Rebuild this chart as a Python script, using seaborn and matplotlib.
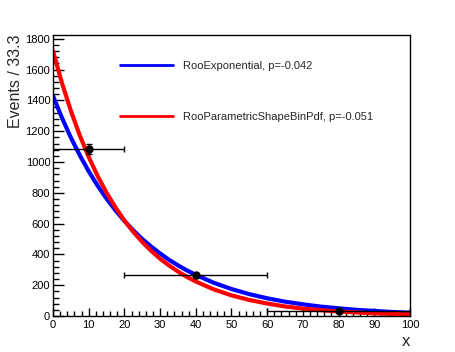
import numpy as np
import pandas as pd
import matplotlib
matplotlib.use("Agg")
import matplotlib.pyplot as plt
from matplotlib.lines import Line2D
import seaborn as sns

# curve values
x_curve = [0, 2.5, 5, 7.5, 10, 12.5, 15, 17.5, 20, 22.5, 25, 27.5, 30,
           32.5, 35, 37.5, 40, 45, 50, 55, 60, 65, 70, 75, 80, 85, 90, 95, 100]
expo_vals = [1430, 1287, 1159, 1044, 940, 846, 762, 686, 617, 556, 500, 451, 406,
             365, 329, 296, 267, 216, 175, 142, 115, 93, 76, 61, 50, 40, 33, 26, 21]
shape_vals = [1720, 1514, 1333, 1173, 1033, 909, 800, 705, 620, 546, 481, 423, 372,
              328, 289, 254, 224, 173, 134, 104, 81, 62, 48, 38, 29, 23, 17.5, 13.6, 10.5]

# binned data points
x_data = [10, 40, 80]
x_err = [10, 20, 20]
y_data = [1085, 265, 32]
y_err = [33, 16, 10]

labels = ["RooExponential, p=-0.042", "RooParametricShapeBinPdf, p=-0.051"]

sns.set_style("ticks")
plt.rcParams['font.family'] = ['Liberation Sans', 'DejaVu Sans']

fig = plt.figure(figsize=(4.56, 3.52), dpi=100)
ax = fig.add_axes([53 / 456, 1 - 316 / 352, 357 / 456, 281 / 352])

df = pd.DataFrame({"x": x_curve * 2,
                   "y": expo_vals + shape_vals,
                   "pdf": [labels[0]] * len(x_curve) + [labels[1]] * len(x_curve)})
sns.lineplot(data=df, x="x", y="y", hue="pdf", palette=["#0000ff", "#ff0000"],
             linewidth=3, ax=ax, legend=False)

ax.errorbar(x_data, y_data, xerr=x_err, yerr=y_err, fmt='o', color='black',
            ms=5, elinewidth=1, capsize=2.5, capthick=1, zorder=5)

ax.set_xlim(0, 100)
ax.set_ylim(0, 1825)
ax.set_xticks(np.arange(0, 101, 10))
ax.set_xticks(np.arange(0, 101, 2), minor=True)
ax.set_yticks(np.arange(0, 1801, 200))
ax.set_yticks(np.arange(0, 1801, 40), minor=True)
ax.tick_params(which='both', direction='in', top=False, right=False,
               labelsize=8, colors='black')
ax.tick_params(axis='y', which='major', length=8, width=1, pad=2)
ax.tick_params(axis='y', which='minor', length=4.5, width=1)
ax.tick_params(axis='x', which='major', length=6, width=1, pad=3)
ax.tick_params(axis='x', which='minor', length=3.5, width=1)
for s in ax.spines.values():
    s.set_color('black')
    s.set_linewidth(1)

ax.set_xlabel("x", fontsize=12, loc='right', labelpad=3)
ax.set_ylabel("Events / 33.3", fontsize=11.5, loc='top', labelpad=2)

handles = [Line2D([0], [0], color="#0000ff", lw=2),
           Line2D([0], [0], color="#ff0000", lw=2)]
ax.legend(handles, labels, loc='upper left',
          bbox_to_anchor=(120 / 456, 1 - 61 / 352), bbox_transform=fig.transFigure,
          frameon=False, fontsize=8, handlelength=4.8, handletextpad=0.9,
          labelspacing=3.7, borderpad=0, borderaxespad=0)

fig.savefig("out.png", dpi=100)
